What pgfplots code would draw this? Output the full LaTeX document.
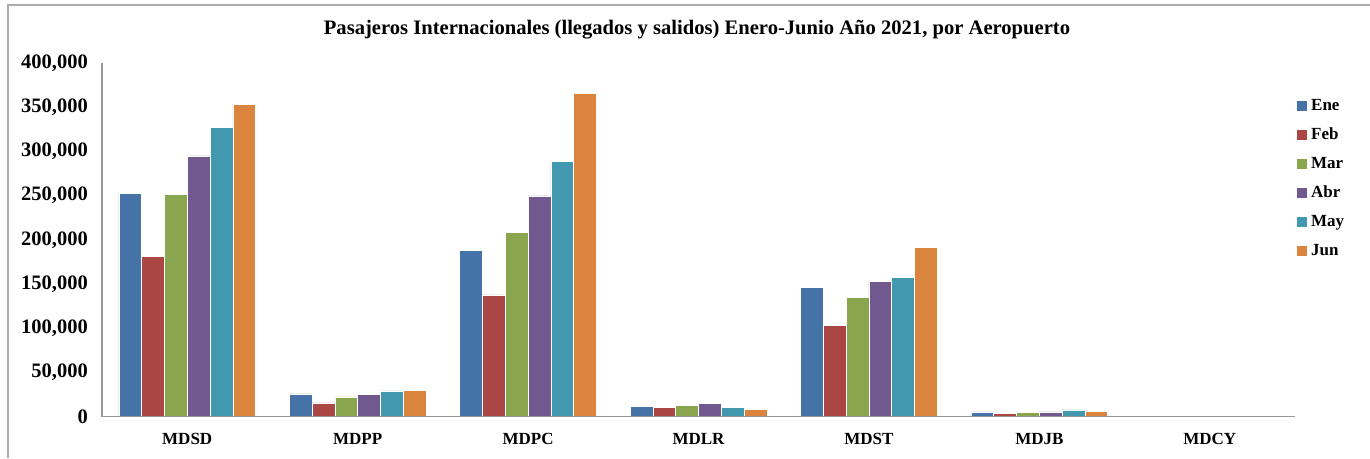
\documentclass[border=0pt]{standalone}
\usepackage{fontspec}
\setmainfont{Liberation Serif}
\usepackage{pgfplots}
\usepackage{pgfplotstable}
\pgfplotsset{compat=1.18}
\definecolor{cEne}{HTML}{4572A7}
\definecolor{cFeb}{HTML}{AA4643}
\definecolor{cMar}{HTML}{89A54E}
\definecolor{cAbr}{HTML}{71588F}
\definecolor{cMay}{HTML}{4198AF}
\definecolor{cJun}{HTML}{DB843D}
\definecolor{axgray}{RGB}{150,150,150}
\pgfplotstableread{
x Ene Feb Mar Abr May Jun
0 252500 181500 251400 295000 327500 353500
1 25800 15600 22400 25000 29200 29900
2 188200 137700 208600 249700 288600 365500
3 11200 10100 13100 14600 10500 8200
4 146400 103700 134700 152700 157300 191700
5 5500 3500 5100 5500 7700 5900
6 0 0 0 0 0 0
}\datatable
\begin{document}
\begin{tikzpicture}
\useasboundingbox (0,0) rectangle (1370pt,458pt);
\draw[axgray!80, line width=1.5pt] (8pt,0pt) -- (8pt,453pt) -- (1370pt,453pt);
\node[font=\fontsize{20.6}{23}\selectfont\bfseries, anchor=center] at (697pt,428pt) {Pasajeros Internacionales (llegados y salidos) Enero-Junio Año 2021, por Aeropuerto};
\begin{axis}[
  at={(102pt,41.3pt)}, anchor=south west,
  scale only axis, width=1193pt, height=353.7pt,
  xmin=-0.5, xmax=6.5, ymin=0, ymax=400000,
  ybar=0pt, bar width=22.8pt,
  axis x line*=bottom, axis y line*=left,
  axis line style={axgray, line width=1.2pt, -},
  major tick length=0pt,
  xtick={0,...,6},
  xticklabels={MDSD,MDPP,MDPC,MDLR,MDST,MDJB,MDCY},
  ytick={0,50000,...,400000},
  scaled y ticks=false,
  /pgf/number format/.cd, fixed, 1000 sep={,}, assume math mode=true,
  /pgfplots/.cd,
  yticklabel style={font=\fontsize{20.5}{23}\selectfont\bfseries, anchor=east, inner sep=0pt, xshift=-14pt},
  xticklabel style={font=\fontsize{17}{20}\selectfont\bfseries, anchor=north, inner sep=0pt, yshift=-16pt},
  axis on top,
  legend style={at={(1.0,0.673)}, anchor=west, xshift=2pt, draw=none, fill=none, inner sep=0pt,
    font=\fontsize{17}{19}\selectfont\bfseries,
    row sep=15pt, column sep=4pt,
    nodes={inner sep=0pt, text height=11pt, text depth=3pt}},
  legend cell align=left,
  legend image code/.code={\path[#1, draw=none] (0pt,-5pt) rectangle (10pt,5pt);},
  every axis plot/.append style={draw=white, line width=0.6pt},
]
\addplot[fill=cEne] table[x=x, y=Ene] {\datatable};
\addplot[fill=cFeb] table[x=x, y=Feb] {\datatable};
\addplot[fill=cMar] table[x=x, y=Mar] {\datatable};
\addplot[fill=cAbr] table[x=x, y=Abr] {\datatable};
\addplot[fill=cMay] table[x=x, y=May] {\datatable};
\addplot[fill=cJun] table[x=x, y=Jun] {\datatable};
\legend{Ene,Feb,Mar,Abr,May,Jun}
\end{axis}
\end{tikzpicture}
\end{document}
